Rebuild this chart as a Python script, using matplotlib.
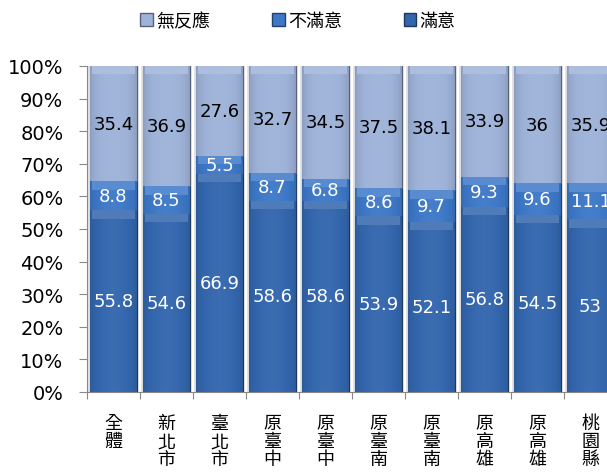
import numpy as np
import matplotlib
matplotlib.use("Agg")
import matplotlib.pyplot as plt
from matplotlib.patches import Patch

plt.rcParams['font.family'] = ['Noto Sans CJK TC', 'DejaVu Sans']

cats = ['全體', '新北市', '臺北市', '原臺中', '原臺中', '原臺南', '原臺南', '原高雄', '原高雄', '桃園縣']
satisfied = [55.8, 54.6, 66.9, 58.6, 58.6, 53.9, 52.1, 56.8, 54.5, 53]
unsatisfied = [8.8, 8.5, 5.5, 8.7, 6.8, 8.6, 9.7, 9.3, 9.6, 11.1]
noresp = [35.4, 36.9, 27.6, 32.7, 34.5, 37.5, 38.1, 33.9, 36, 35.9]
series_names = ['滿意', '不滿意', '無反應']

colors = {'滿意': (0.20, 0.40, 0.68), '不滿意': (0.24, 0.47, 0.78), '無反應': (0.62, 0.70, 0.85)}
text_colors = {'滿意': 'white', '不滿意': 'white', '無反應': 'black'}

fig = plt.figure(figsize=(6.07, 4.77), dpi=100)
ax = fig.add_axes([87 / 607, 1 - 393 / 477, 530 / 607, 326 / 477])

x = np.arange(len(cats))
data = np.array([satisfied, unsatisfied, noresp])
pct = data / data.sum(axis=0) * 100
width = 0.87

# shadow behind bars
ax.bar(x, 100, width=width + 0.08, color='#e4e4e4', zorder=1)


def shade(c, f):
    c = np.array(c)
    if f > 0:
        return tuple(c + (1 - c) * f)
    return tuple(c * (1 + f))


bottom = np.zeros(len(cats))
for name, vals in zip(series_names, pct):
    base = colors[name]
    bars = ax.bar(x, vals, bottom=bottom, width=width, color=base,
                  edgecolor=shade(base, -0.45), linewidth=0.8, zorder=2)
    # horizontal gradient on each segment
    t = np.linspace(0, 1, 64)
    prof = 0.16 * np.sin(np.pi * t) ** 0.6 - 0.12
    img = np.array([[shade(base, p) for p in prof]])
    for b in bars:
        x0, y0 = b.get_x(), b.get_y()
        im = ax.imshow(img, extent=[x0, x0 + b.get_width(), y0, y0 + b.get_height()],
                       aspect='auto', zorder=2.1, interpolation='bilinear')
        im.set_clip_path(b)
    # bevel at top of segment
    bh = np.minimum(2.6, vals)
    ax.bar(x, bh, bottom=bottom + vals - bh, width=width * 0.94,
           color=shade(base, 0.14), linewidth=0, zorder=2.2)
    for xi, v, b0 in zip(x, vals, bottom):
        lbl = f'{data[series_names.index(name)][xi]:g}'
        ax.text(xi, b0 + v / 2, lbl, ha='center', va='center', fontsize=13,
                color=text_colors[name], family='DejaVu Sans', zorder=3)
    bottom += vals

ax.set_xlim(-0.5, len(cats) - 0.5)
ax.set_ylim(0, 100)
ax.set_yticks(np.arange(0, 101, 10))
ax.set_yticklabels([f'{v}%' for v in range(0, 101, 10)], fontsize=14, family='DejaVu Sans')
ax.set_xticks(np.arange(-0.5, len(cats), 1))
ax.set_xticklabels([])
ax.set_xticks(x, minor=True)
ax.set_xticklabels(['\n'.join(c) for c in cats], minor=True, fontsize=13,
                   va='top', linespacing=1.0, fontweight='light')
ax.tick_params(axis='x', which='minor', length=0, pad=16)
ax.tick_params(axis='x', which='major', length=5, color='#888888')
ax.tick_params(axis='y', length=6, color='#888888', pad=11)
for s in ['top', 'right']:
    ax.spines[s].set_visible(False)
for s in ['left', 'bottom']:
    ax.spines[s].set_color('#888888')

handles = [Patch(facecolor=colors[n], edgecolor=shade(colors[n], -0.45)) for n in ['無反應', '不滿意', '滿意']]
fig.legend(handles, ['無反應', '不滿意', '滿意'], loc='center', bbox_to_anchor=(298 / 607, 1 - 22 / 477),
           ncol=3, frameon=False, fontsize=13, handlelength=0.7, handleheight=0.7,
           handletextpad=0.2, columnspacing=3.4)

fig.savefig('out.png', dpi=100)
